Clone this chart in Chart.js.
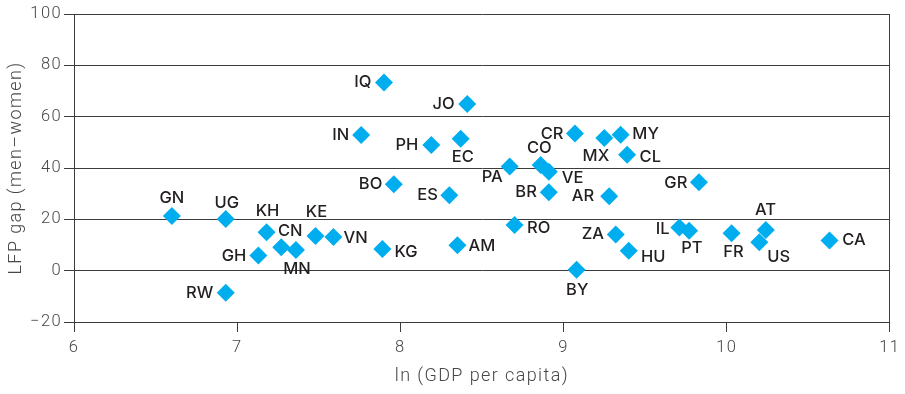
<!DOCTYPE html>
<html>
<head>
<meta charset="utf-8">
<script src="https://cdn.jsdelivr.net/npm/chart.js@4.4.1/dist/chart.umd.min.js"></script>
<style>
  html, body { margin: 0; padding: 0; background: #ffffff; }
  #wrap { width: 905px; height: 394px; position: relative; }
</style>
</head>
<body>
<div id="wrap"><canvas id="chart"></canvas></div>
<script>
// Country codes, log GDP per capita and labour-force participation gap (men minus women)
const countries = ['GN','UG','RW','KH','GH','CN','MN','KE','VN','KG','IN','IQ','BO','PH','ES','JO','EC','AM',
                   'PA','RO','CO','VE','BR','BY','CR','AR','ZA','HU','MX','MY','CL','GR','IL','PT','FR','US','AT','CA'];
const lnGdp = [6.60, 6.93, 6.93, 7.18, 7.13, 7.27, 7.36, 7.48, 7.59, 7.89, 7.76, 7.90, 7.96, 8.19, 8.30, 8.41, 8.37, 8.35,
               8.67, 8.70, 8.86, 8.91, 8.91, 9.08, 9.07, 9.28, 9.32, 9.40, 9.25, 9.35, 9.39, 9.83, 9.71, 9.77, 10.03, 10.20, 10.24, 10.63];
const lfpGap = [21.3, 20.1, -8.6, 15.0, 5.9, 9.1, 8.1, 13.5, 13.1, 8.4, 52.9, 73.3, 33.7, 49.0, 29.4, 64.9, 51.4, 9.9,
                40.6, 17.8, 41.2, 38.5, 30.6, 0.4, 53.4, 29.0, 14.1, 7.8, 51.7, 53.0, 45.2, 34.4, 16.8, 15.6, 14.6, 11.1, 15.8, 11.8];
const xTicks = [6, 7, 8, 9, 10, 11];
const yTicks = [-20, 0, 20, 40, 60, 80, 100];
const xTitle = 'ln (GDP per capita)';
const yTitle = 'LFP gap (men\u2013women)';

// Where each country code sits relative to its marker: [textAlign, dx, dy]
const labelPlacement = {
  GN: ['center', 0, -18],  UG: ['center', 1, -16],  RW: ['right', -12.5, 0], KH: ['center', 1, -21],
  GH: ['right', -12, 1],   CN: ['center', 9, -16],  MN: ['center', 1, 19.5], KE: ['center', 1, -24],
  VN: ['left', 10, 1],     KG: ['left', 12, 3],     IN: ['right', -12, 0],   IQ: ['right', -12.5, 0],
  BO: ['right', -11.5, 0], PH: ['right', -13, 0],   ES: ['right', -11.5, 0], JO: ['right', -12.5, 0],
  EC: ['center', 2, 18.5], AM: ['left', 11, 1],     PA: ['center', -17.5, 11], RO: ['left', 12.5, 3.5],
  CO: ['center', -1.3, -17.3], VE: ['left', 13, 6.5], BR: ['right', -12, 0], BY: ['center', 0.7, 20.7],
  CR: ['right', -11.5, 0], AR: ['right', -15, 0],   ZA: ['right', -11.7, 0], HU: ['left', 12.3, 6.4],
  MX: ['center', -8.4, 17.7], MY: ['left', 11.7, -0.7], CL: ['left', 12.4, 2], GR: ['right', -11.6, 1],
  IL: ['right', -9.7, 2],  PT: ['center', 2.7, 17.4], FR: ['center', 2, 18.7], US: ['center', 19.3, 15.3],
  AT: ['center', -0.3, -20], CA: ['left', 12.7, 0]
};

const MARKER = '#00AEEF';
const INK = '#231F20';
const AXIS_INK = '#474747';
const RULE = '#3c3c3c';

const points = countries.map((c, i) => ({ x: lnGdp[i], y: lfpGap[i] }));

// Light, slightly tracked type for the axes; code labels stay untracked
const trackingPlugin = {
  id: 'tracking',
  beforeDraw(chart) { chart.ctx.letterSpacing = '1.4px'; }
};

const codeLabels = {
  id: 'codeLabels',
  afterDatasetsDraw(chart) {
    const ctx = chart.ctx;
    const meta = chart.getDatasetMeta(0);
    ctx.save();
    ctx.letterSpacing = '0px';
    ctx.font = '500 16.5px Inter, "Liberation Sans", Arial, sans-serif';
    ctx.fillStyle = INK;
    ctx.textBaseline = 'middle';
    meta.data.forEach((pt, i) => {
      const code = countries[i];
      const [align, dx, dy] = labelPlacement[code] || ['left', 12, 0];
      ctx.textAlign = align;
      ctx.fillText(code, pt.x + dx, pt.y + dy);
    });
    ctx.restore();
  }
};

// Typographic minus for negative tick values
const signed = (v) => (v < 0 ? '\u2212' + Math.abs(v) : String(v));

new Chart(document.getElementById('chart'), {
  type: 'scatter',
  data: {
    datasets: [{
      data: points,
      pointStyle: 'rectRot',
      pointRadius: 9,
      pointHoverRadius: 9,
      backgroundColor: MARKER,
      borderWidth: 0
    }]
  },
  options: {
    responsive: true,
    maintainAspectRatio: false,
    animation: false,
    events: [],
    layout: { padding: { top: 14, right: 12, bottom: 0, left: 0 } },
    plugins: { legend: { display: false }, tooltip: { enabled: false } },
    scales: {
      x: {
        type: 'linear',
        min: xTicks[0],
        max: xTicks[xTicks.length - 1],
        afterBuildTicks(scale) { scale.ticks = xTicks.map(v => ({ value: v })); },
        afterFit(scale) { scale.height = 72; },
        border: { display: true, color: RULE, width: 1 },
        grid: {
          drawOnChartArea: true,
          drawTicks: true,
          tickLength: 10,
          tickColor: RULE,
          color: (c) => (c.tick && c.tick.value === xTicks[xTicks.length - 1]) ? RULE : 'rgba(0,0,0,0)',
          lineWidth: 1
        },
        ticks: {
          padding: 6,
          color: AXIS_INK,
          font: { family: 'Roboto', size: 16.5, weight: '300' },
          maxRotation: 0,
          callback: (v) => signed(v)
        },
        title: {
          display: true,
          text: xTitle,
          color: AXIS_INK,
          font: { family: 'Roboto', size: 18, weight: '300' },
          padding: { top: 0, bottom: 7 }
        }
      },
      y: {
        type: 'linear',
        min: yTicks[0],
        max: yTicks[yTicks.length - 1],
        afterBuildTicks(scale) { scale.ticks = yTicks.map(v => ({ value: v })); },
        afterFit(scale) { scale.width = 74; },
        border: { display: true, color: RULE, width: 1 },
        grid: {
          drawOnChartArea: true,
          drawTicks: true,
          tickLength: 10,
          color: RULE,
          tickColor: RULE,
          lineWidth: 1
        },
        ticks: {
          padding: 2,
          color: AXIS_INK,
          font: { family: 'Roboto', size: 16.5, weight: '300' },
          callback: (v) => signed(v)
        },
        title: {
          display: true,
          text: yTitle,
          color: AXIS_INK,
          font: { family: 'Roboto', size: 18, weight: '300' },
          padding: { top: 6, bottom: 0 }
        }
      }
    }
  },
  plugins: [trackingPlugin, codeLabels]
});
</script>
</body>
</html>
